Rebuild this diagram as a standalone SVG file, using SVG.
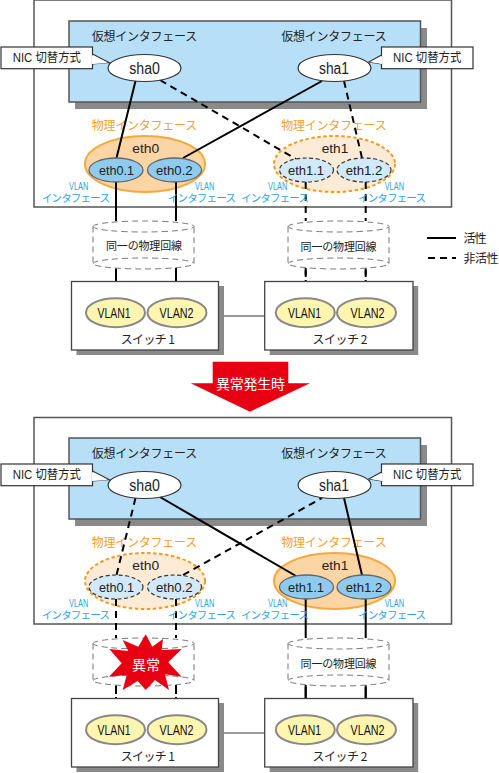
<svg xmlns="http://www.w3.org/2000/svg" width="499" height="773" viewBox="0 0 499 773">
<style>
text{font-family:"Noto Sans CJK JP","Liberation Sans",sans-serif;font-size:12px;fill:#222}
.lat{font-family:"Liberation Sans","Noto Sans CJK JP",sans-serif;font-size:13px}
.vl{font-family:"Liberation Sans",sans-serif;font-size:14px;fill:#111}
.nic{font-family:"Liberation Sans","Noto Sans CJK JP",sans-serif;font-size:12.500px}
.big{font-family:"Liberation Sans",sans-serif;font-size:16px}
.jp11{font-size:11px}
.o{fill:#fff;stroke:#555;stroke-width:1.5}
.blue{fill:#b7e0f8;stroke:#555;stroke-width:1.5}
.sh{fill:#8a8a8a;stroke:none}
.wn{fill:#fff;stroke:#333;stroke-width:1.2}
.ba{fill:#fcd5a4;stroke:#f5a83c;stroke-width:2}
.bi{fill:#fdebd6;stroke:#f59a1e;stroke-width:2;stroke-dasharray:3.500 2.500}
.sa{fill:#8ecbef;stroke:#666;stroke-width:1.3}
.si{fill:#d2e9f9;stroke:#333;stroke-width:1.2;stroke-dasharray:4 2.500}
.v{fill:#fdf5b0;stroke:#888;stroke-width:2}
.sw{fill:#fff;stroke:#444;stroke-width:1.3}
.a{stroke:#000;stroke-width:2;fill:none}
.d{stroke:#000;stroke-width:2;fill:none;stroke-dasharray:7 5}
.cy{fill:#fff;stroke:#777;stroke-width:1;stroke-dasharray:6 4}
.cn{stroke:#777;stroke-width:1.300;fill:none}
.og{fill:#f5a030}
.bl{fill:#2aa5e8;font-size:10.500px}
.blv{fill:#2aa5e8;font-family:"Liberation Sans",sans-serif;font-size:10.500px}
.wt{fill:#fff;font-size:14px}
</style>
<g id="panel-top">
<rect class="o" x="34" y="0" width="417.500" height="207"/>
<rect class="sh" x="75" y="28" width="352" height="81"/>
<rect class="blue" x="69" y="21" width="351.500" height="81"/>
<text x="91.700" y="41" textLength="105.600">仮想インタフェース</text>
<text x="281.300" y="41" textLength="105.400">仮想インタフェース</text>
<text class="og" x="91.700" y="130" textLength="105.600">物理インタフェース</text>
<text class="og" x="281.300" y="130" textLength="105.400">物理インタフェース</text>
</g>
<g id="eth0-top"><ellipse class="ba" cx="145" cy="164" rx="60" ry="28"/><text class="lat" x="132.300" y="153" textLength="27" lengthAdjust="spacingAndGlyphs">eth0</text></g>
<g id="eth1-top"><ellipse class="bi" cx="334.500" cy="164" rx="60.500" ry="28"/><text class="lat" x="321.700" y="153" textLength="26.600" lengthAdjust="spacingAndGlyphs">eth1</text></g>
<g id="connectors-top">
<path class="a" d="M135.500 81L116.500 158M183 158L322 81M116 182V221M176 182V221M116 268V298M176 268V298"/>
<path class="d" d="M160 80L296 159M344 81L362 158M305.700 182V221M365.700 182V221M305.700 268V298M365.700 268V298"/>
<path class="cn" d="M221 316H264.700"/>
</g>
<g id="sha0-top"><path class="wn" d="M92.500 54L109 62.500L92.500 64"/><rect class="wn" x="1" y="47" width="91.500" height="21.700"/><path d="M92 55L108 63L92 64Z" fill="#fff"/><text class="nic" x="12.700" y="62" textLength="68.300" lengthAdjust="spacingAndGlyphs">NIC 切替方式</text><ellipse class="wn" cx="144.500" cy="68" rx="36.500" ry="13.500"/><text class="big" x="129.300" y="73.500" textLength="30.700" lengthAdjust="spacingAndGlyphs">sha0</text></g>
<g id="sha1-top"><path class="wn" d="M381.500 55L369 62L381.500 64"/><rect class="wn" x="381.500" y="47" width="91.500" height="21.700"/><path d="M382 56L370 62L382 64Z" fill="#fff"/><text class="nic" x="393" y="62" textLength="68.300" lengthAdjust="spacingAndGlyphs">NIC 切替方式</text><ellipse class="wn" cx="334.500" cy="68" rx="36.500" ry="13.500"/><text class="big" x="319" y="73.500" textLength="30" lengthAdjust="spacingAndGlyphs">sha1</text></g>
<g id="eth01-top"><ellipse class="sa" cx="116" cy="170" rx="27" ry="12"/><text class="lat" x="99" y="174.500" textLength="35" lengthAdjust="spacingAndGlyphs">eth0.1</text></g>
<g id="eth02-top"><ellipse class="sa" cx="174.500" cy="170" rx="27" ry="12"/><text class="lat" x="156" y="174.500" textLength="36.700" lengthAdjust="spacingAndGlyphs">eth0.2</text></g>
<g id="eth11-top"><ellipse class="si" cx="306.500" cy="170" rx="27" ry="12"/><text class="lat" x="288" y="174.500" textLength="36" lengthAdjust="spacingAndGlyphs">eth1.1</text></g>
<g id="eth12-top"><ellipse class="si" cx="364" cy="170" rx="27" ry="12"/><text class="lat" x="345.700" y="174.500" textLength="36.600" lengthAdjust="spacingAndGlyphs">eth1.2</text></g>
<g id="vlan-labels-top">
<text class="blv" x="69" y="190" textLength="19.300" lengthAdjust="spacingAndGlyphs">VLAN</text><text class="bl" x="41.700" y="202" textLength="68.300">インタフェース</text>
<text class="blv" x="195" y="190" textLength="19.300" lengthAdjust="spacingAndGlyphs">VLAN</text><text class="bl" x="167.700" y="202" textLength="68.300">インタフェース</text>
<text class="blv" x="268" y="190" textLength="19.300" lengthAdjust="spacingAndGlyphs">VLAN</text><text class="bl" x="241" y="202" textLength="68">インタフェース</text>
<text class="blv" x="384.700" y="190" textLength="19.300" lengthAdjust="spacingAndGlyphs">VLAN</text><text class="bl" x="358" y="202" textLength="68">インタフェース</text>
</g>
<g id="line1-top"><path class="cy" d="M93 226.500A50.500 5.500 0 0 1 194 226.500A50.500 5.500 0 0 1 93 226.500M93 226.500V263.500A50.500 5.500 0 0 0 194 263.500V226.500M93 263.500A50.500 5.500 0 0 1 194 263.500"/><text class="jp11" x="106" y="250" textLength="76">同一の物理回線</text></g>
<g id="line2-top"><path class="cy" d="M288 226.500A50.500 5.500 0 0 1 389 226.500A50.500 5.500 0 0 1 288 226.500M288 226.500V263.500A50.500 5.500 0 0 0 389 263.500V226.500M288 263.500A50.500 5.500 0 0 1 389 263.500"/><text class="jp11" x="300.600" y="251" textLength="76">同一の物理回線</text></g>
<g id="conn-fg-top"><path class="a" d="M116 270V298M176 270V298"/><path class="d" d="M305.700 270V298M365.700 270V298"/></g>
<g id="switch1-top"><rect class="sh" x="76.500" y="286" width="147.500" height="69"/><rect class="sw" x="71.500" y="281.500" width="147" height="68.500"/><ellipse class="v" cx="115.500" cy="312.700" rx="29.500" ry="14.500"/><text class="vl" x="97.500" y="318" textLength="33" lengthAdjust="spacingAndGlyphs">VLAN1</text><ellipse class="v" cx="177" cy="312.700" rx="29.500" ry="14.500"/><text class="vl" x="159.500" y="318" textLength="34" lengthAdjust="spacingAndGlyphs">VLAN2</text><text x="120.700" y="344" textLength="54.300">スイッチ 1</text></g>
<g id="switch2-top"><rect class="sh" x="269.700" y="286" width="148.500" height="69"/><rect class="sw" x="264.700" y="281.500" width="148.300" height="68.500"/><ellipse class="v" cx="305.300" cy="312.700" rx="29.500" ry="14.500"/><text class="vl" x="288" y="318" textLength="33" lengthAdjust="spacingAndGlyphs">VLAN1</text><ellipse class="v" cx="366.500" cy="312.700" rx="29.500" ry="14.500"/><text class="vl" x="350.500" y="318" textLength="34" lengthAdjust="spacingAndGlyphs">VLAN2</text><text x="312.500" y="344" textLength="55">スイッチ 2</text></g>
<g id="legend"><path class="a" d="M427 238H456"/><path class="d" d="M428 258H456"/><text x="463.500" y="243" textLength="23">活性</text><text x="463.500" y="263" textLength="35">非活性</text></g>
<g id="failure-arrow"><path d="M212.700 361.700H288.300V383.300H310L250 411.700L190.700 383.300H212.700Z" fill="#e60012"/><text class="wt" x="216" y="388.500" textLength="69">異常発生時</text></g>
<g id="panel-bottom">
<rect class="o" x="34" y="417.500" width="417.500" height="206.500"/>
<rect class="sh" x="75" y="445" width="352" height="81"/>
<rect class="blue" x="69" y="438" width="351.500" height="81"/>
<text x="91.700" y="458" textLength="105.600">仮想インタフェース</text>
<text x="281.300" y="458" textLength="105.400">仮想インタフェース</text>
<text class="og" x="91.700" y="547" textLength="105.600">物理インタフェース</text>
<text class="og" x="281.300" y="547" textLength="105.400">物理インタフェース</text>
</g>
<g id="eth0-bottom"><ellipse class="bi" cx="145" cy="581" rx="60" ry="28"/><text class="lat" x="132.300" y="570" textLength="27" lengthAdjust="spacingAndGlyphs">eth0</text></g>
<g id="eth1-bottom"><ellipse class="ba" cx="334.500" cy="581" rx="60.500" ry="28"/><text class="lat" x="321.700" y="570" textLength="26.600" lengthAdjust="spacingAndGlyphs">eth1</text></g>
<g id="connectors-bottom">
<path class="a" d="M160 497L296 576M344 498L362 575M305.700 599V638M365.700 599V638M305.700 685V715M365.700 685V715"/>
<path class="d" d="M135.500 498L116.500 575M183 575L322 498M116 599V638M176 599V638M116 685V715M176 685V715"/>
<path class="cn" d="M221 733H264.700"/>
</g>
<g id="sha0-bottom"><path class="wn" d="M92.500 471L109 479.500L92.500 481"/><rect class="wn" x="1" y="464" width="91.500" height="21.700"/><path d="M92 472L108 480L92 481Z" fill="#fff"/><text class="nic" x="12.700" y="479" textLength="68.300" lengthAdjust="spacingAndGlyphs">NIC 切替方式</text><ellipse class="wn" cx="144.500" cy="485" rx="36.500" ry="13.500"/><text class="big" x="129.300" y="490.500" textLength="30.700" lengthAdjust="spacingAndGlyphs">sha0</text></g>
<g id="sha1-bottom"><path class="wn" d="M381.500 472L369 479L381.500 481"/><rect class="wn" x="381.500" y="464" width="91.500" height="21.700"/><path d="M382 473L370 479L382 481Z" fill="#fff"/><text class="nic" x="393" y="479" textLength="68.300" lengthAdjust="spacingAndGlyphs">NIC 切替方式</text><ellipse class="wn" cx="334.500" cy="485" rx="36.500" ry="13.500"/><text class="big" x="319" y="490.500" textLength="30" lengthAdjust="spacingAndGlyphs">sha1</text></g>
<g id="eth01-bottom"><ellipse class="si" cx="116" cy="587" rx="27" ry="12"/><text class="lat" x="99" y="591.500" textLength="35" lengthAdjust="spacingAndGlyphs">eth0.1</text></g>
<g id="eth02-bottom"><ellipse class="si" cx="174.500" cy="587" rx="27" ry="12"/><text class="lat" x="156" y="591.500" textLength="36.700" lengthAdjust="spacingAndGlyphs">eth0.2</text></g>
<g id="eth11-bottom"><ellipse class="sa" cx="306.500" cy="587" rx="27" ry="12"/><text class="lat" x="288" y="591.500" textLength="36" lengthAdjust="spacingAndGlyphs">eth1.1</text></g>
<g id="eth12-bottom"><ellipse class="sa" cx="364" cy="587" rx="27" ry="12"/><text class="lat" x="345.700" y="591.500" textLength="36.600" lengthAdjust="spacingAndGlyphs">eth1.2</text></g>
<g id="vlan-labels-bottom">
<text class="blv" x="69" y="607" textLength="19.300" lengthAdjust="spacingAndGlyphs">VLAN</text><text class="bl" x="41.700" y="619" textLength="68.300">インタフェース</text>
<text class="blv" x="195" y="607" textLength="19.300" lengthAdjust="spacingAndGlyphs">VLAN</text><text class="bl" x="167.700" y="619" textLength="68.300">インタフェース</text>
<text class="blv" x="268" y="607" textLength="19.300" lengthAdjust="spacingAndGlyphs">VLAN</text><text class="bl" x="241" y="619" textLength="68">インタフェース</text>
<text class="blv" x="384.700" y="607" textLength="19.300" lengthAdjust="spacingAndGlyphs">VLAN</text><text class="bl" x="358" y="619" textLength="68">インタフェース</text>
</g>
<g id="line1-bottom"><path class="cy" d="M93 643.500A50.500 5.500 0 0 1 194 643.500A50.500 5.500 0 0 1 93 643.500M93 643.500V680.500A50.500 5.500 0 0 0 194 680.500V643.500M93 680.500A50.500 5.500 0 0 1 194 680.500"/></g>
<g id="line2-bottom"><path class="cy" d="M288 643.500A50.500 5.500 0 0 1 389 643.500A50.500 5.500 0 0 1 288 643.500M288 643.500V680.500A50.500 5.500 0 0 0 389 680.500V643.500M288 680.500A50.500 5.500 0 0 1 389 680.500"/><text class="jp11" x="300.600" y="668" textLength="76">同一の物理回線</text></g>
<g id="conn-fg-bottom"><path class="a" d="M305.700 687V715M365.700 687V715"/><path class="d" d="M116 687V715M176 687V715"/></g>
<g id="failure-burst"><path d="M145.700 634.300L152.300 646.700L163 639L161.700 650L181.700 649L168.300 662.300L181.700 676.700L165 674.300L169 690L155 680L145.700 690L137.700 681L122.700 690L126.700 675L109 676.700L121.700 663.300L109.300 649L128.300 651L122.700 640L138.300 646.700Z" fill="#e60012"/><text class="wt" x="132" y="670" textLength="28">異常</text></g>
<g id="switch1-bottom"><rect class="sh" x="76.500" y="703" width="147.500" height="69"/><rect class="sw" x="71.500" y="698.500" width="147" height="68.500"/><ellipse class="v" cx="115.500" cy="729.700" rx="29.500" ry="14.500"/><text class="vl" x="97.500" y="735" textLength="33" lengthAdjust="spacingAndGlyphs">VLAN1</text><ellipse class="v" cx="177" cy="729.700" rx="29.500" ry="14.500"/><text class="vl" x="159.500" y="735" textLength="34" lengthAdjust="spacingAndGlyphs">VLAN2</text><text x="120.700" y="761" textLength="54.300">スイッチ 1</text></g>
<g id="switch2-bottom"><rect class="sh" x="269.700" y="703" width="148.500" height="69"/><rect class="sw" x="264.700" y="698.500" width="148.300" height="68.500"/><ellipse class="v" cx="305.300" cy="729.700" rx="29.500" ry="14.500"/><text class="vl" x="288" y="735" textLength="33" lengthAdjust="spacingAndGlyphs">VLAN1</text><ellipse class="v" cx="366.500" cy="729.700" rx="29.500" ry="14.500"/><text class="vl" x="350.500" y="735" textLength="34" lengthAdjust="spacingAndGlyphs">VLAN2</text><text x="312.500" y="761" textLength="55">スイッチ 2</text></g>
</svg>
